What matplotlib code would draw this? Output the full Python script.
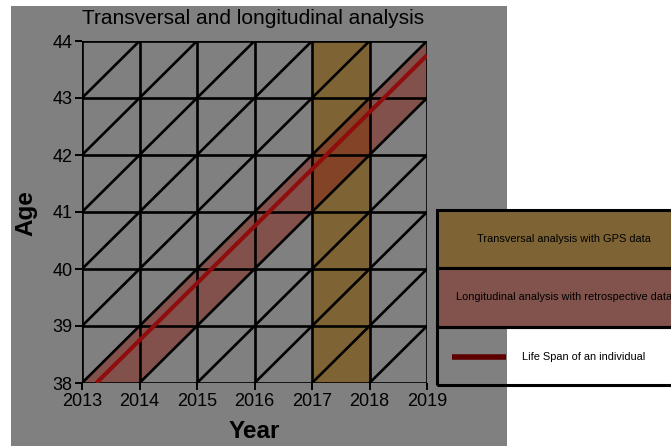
import matplotlib
matplotlib.use("Agg")
import matplotlib.pyplot as plt
from matplotlib.patches import Rectangle, Polygon
import numpy as np

plt.rcParams['font.family'] = ['Liberation Sans', 'DejaVu Sans']

# data
years = [2013, 2014, 2015, 2016, 2017, 2018, 2019]
ages = [38, 39, 40, 41, 42, 43, 44]
transversal_years = [2017, 2018]
# longitudinal band: upper edge and lower edge (year, age)
band_upper = [(2013, 38), (2019, 44)]
band_lower = [(2014, 38), (2019, 43)]
# life span of an individual
life_x = [2013.25, 2019]
life_y = [38, 43.75]
legend_labels = ["Transversal analysis with GPS data",
                 "Longitudinal analysis with retrospective data",
                 "Life Span of an individual"]

W, H = 671, 446
GRAY = '#808080'
fig = plt.figure(figsize=(W / 100, H / 100), dpi=100)
fig.patch.set_facecolor('white')


def rect(x0, y0, x1, y1, color, edge='none', z=0):
    # rectangle in pixel units (origin top left)
    fig.add_artist(Rectangle((x0 / W, 1 - y1 / H), (x1 - x0) / W, (y1 - y0) / H,
                             transform=fig.transFigure, facecolor=color,
                             edgecolor=edge, lw=2.2, zorder=z, clip_on=False))


# gray backdrop
rect(11, 6, 507, 446, GRAY, z=-5)

ax = fig.add_axes([82 / W, 1 - 383 / H, 345 / W, 342 / H])
ax.set_facecolor('none')
ax.set_xlim(years[0], years[-1])
ax.set_ylim(ages[0], ages[-1])

# vertical band
ax.axvspan(transversal_years[0], transversal_years[1], facecolor='#7e6434',
           edgecolor='none', zorder=1)
# diagonal band
poly = Polygon([band_upper[0], band_upper[1], band_lower[1], band_lower[0]],
               closed=True, facecolor='#86241a', alpha=0.5, edgecolor='none', zorder=2)
ax.add_patch(poly)

# grid
for x in years:
    ax.plot([x, x], [ages[0], ages[-1]], color='black', lw=1.9, zorder=3)
for y in ages:
    ax.plot([years[0], years[-1]], [y, y], color='black', lw=1.9, zorder=3)
# diagonals
xs = np.array([years[0], years[-1]], dtype=float)
for k in range(-6, 7):
    ax.plot(xs, xs - years[0] + ages[0] + k, color='black', lw=1.9, zorder=3)

ax.plot(life_x, life_y, color='#8f0d0d', lw=3, zorder=4, solid_capstyle='butt')

for s in ax.spines.values():
    s.set_visible(False)
ax.set_xticks(years)
ax.set_yticks(ages)
ax.tick_params(direction='out', length=5, width=1.4, labelsize=13, pad=2)
fig.text(254 / W, 1 - 432 / H, 'Year', ha='center', va='center',
         fontsize=17.5, fontweight='bold')
fig.text(26 / W, 1 - 213 / H, 'Age', ha='center', va='center', rotation=90,
         fontsize=17.5, fontweight='bold')
fig.text(253 / W, 1 - 18 / H, 'Transversal and longitudinal analysis',
         ha='center', va='center', fontsize=15)

# legend boxes
rect(437, 327, 507, 385, GRAY, z=4)
rect(437, 210, 690, 268, '#7e6434', edge='black', z=5)
rect(437, 268, 690, 327, '#82534d', edge='black', z=5)
rect(437, 327, 690, 385, 'none', edge='black', z=5)
fig.text(564 / W, 1 - 239 / H, legend_labels[0], ha='center', va='center',
         fontsize=7.9, zorder=6)
fig.text(564 / W, 1 - 297 / H, legend_labels[1], ha='center', va='center',
         fontsize=7.9, zorder=6)
fig.add_artist(plt.Line2D([452 / W, 506 / W], [1 - 357 / H, 1 - 357 / H],
                          transform=fig.transFigure, color='#5e0000', lw=4,
                          solid_capstyle='butt', zorder=6))
fig.text(522 / W, 1 - 357 / H, legend_labels[2], ha='left', va='center',
         fontsize=7.9, zorder=6)

fig.savefig('out.png', dpi=100)
